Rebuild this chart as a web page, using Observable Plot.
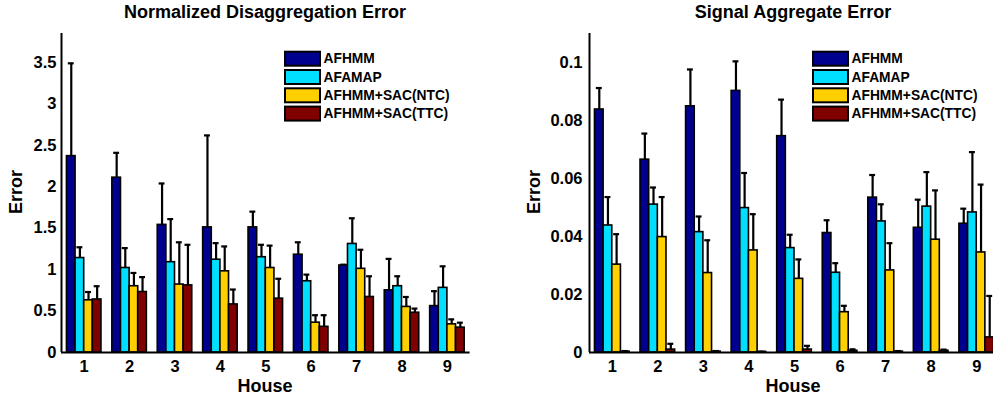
<!DOCTYPE html>
<html>
<head>
<meta charset="utf-8">
<script src="https://cdn.jsdelivr.net/npm/d3@7"></script>
<script src="https://cdn.jsdelivr.net/npm/@observablehq/plot@0.6"></script>
<style>
  html, body { margin: 0; padding: 0; background: #fff; overflow: hidden; }
  #wrap { position: relative; width: 993px; height: 400px; overflow: hidden; background: #fff; }
  #left, #right, #overlay { position: absolute; top: 0; }
  #left { left: 0; width: 496px; }
  #right { left: 496px; width: 503px; }
  #left svg, #right svg { max-width: none !important; }
  #overlay { left: 0; pointer-events: none; }
  text { font-family: "Liberation Sans", Arial, sans-serif; font-weight: bold; }
</style>
</head>
<body>
<div id="wrap">
  <div id="left"></div>
  <div id="right"></div>
  <svg id="overlay" width="993" height="400"></svg>
</div>
<script>
// ---------- data ----------
const houses = [1, 2, 3, 4, 5, 6, 7, 8, 9];
const seriesNames = ["AFHMM", "AFAMAP", "AFHMM+SAC(NTC)", "AFHMM+SAC(TTC)"];
const seriesColors = ["#00008F", "#00DFFF", "#FFCF00", "#800000"];

// Normalized Disaggregation Error
const ndeAFHMM    = [2.37, 2.11, 1.54, 1.51, 1.51, 1.18, 1.05, 0.75, 0.56];
const ndeAFAMAP   = [1.14, 1.02, 1.09, 1.12, 1.15, 0.86, 1.31, 0.80, 0.78];
const ndeNTC      = [0.63, 0.80, 0.82, 0.98, 1.02, 0.36, 1.01, 0.55, 0.34];
const ndeTTC      = [0.64, 0.73, 0.81, 0.58, 0.65, 0.31, 0.67, 0.48, 0.30];
const ndeErrAFHMM  = [1.12, 0.30, 0.50, 1.11, 0.19, 0.15, 0.01, 0.38, 0.18];
const ndeErrAFAMAP = [0.13, 0.24, 0.52, 0.20, 0.15, 0.08, 0.31, 0.12, 0.26];
const ndeErrNTC    = [0.10, 0.16, 0.51, 0.30, 0.27, 0.09, 0.23, 0.12, 0.06];
const ndeErrTTC    = [0.16, 0.18, 0.49, 0.18, 0.24, 0.14, 0.25, 0.05, 0.06];
const ndeTicks = [0, 0.5, 1, 1.5, 2, 2.5, 3, 3.5];

// Signal Aggregate Error
const saeAFHMM    = [0.0838, 0.0665, 0.0849, 0.0902, 0.0746, 0.0412, 0.0534, 0.0430, 0.0444];
const saeAFAMAP   = [0.0438, 0.0510, 0.0415, 0.0498, 0.0360, 0.0275, 0.0452, 0.0503, 0.0483];
const saeNTC      = [0.0303, 0.0398, 0.0274, 0.0352, 0.0254, 0.0139, 0.0283, 0.0389, 0.0345];
const saeTTC      = [0.0003, 0.0010, 0.0003, 0.0002, 0.0010, 0.0006, 0.0003, 0.0006, 0.0052];
const saeErrAFHMM  = [0.0074, 0.0090, 0.0127, 0.0102, 0.0126, 0.0044, 0.0078, 0.0097, 0.0052];
const saeErrAFAMAP = [0.0098, 0.0059, 0.0054, 0.0121, 0.0046, 0.0033, 0.0059, 0.0119, 0.0208];
const saeErrNTC    = [0.0105, 0.0138, 0.0113, 0.0125, 0.0067, 0.0022, 0.0094, 0.0170, 0.0234];
const saeErrTTC    = [0.0002, 0.0020, 0.0002, 0.0001, 0.0013, 0.0005, 0.0002, 0.0004, 0.0143];
const saeTicks = [0, 0.02, 0.04, 0.06, 0.08, 0.1];

// ---------- build ----------
const BAR_W = 0.19;   // bar width in house units
const CAP = 0.065;    // half cap width in house units

function rowsFrom(valueSets, errSets) {
  const rows = [];
  seriesNames.forEach((s, k) => {
    houses.forEach((h, i) => {
      const v = valueSets[k][i];
      const e = errSets[k][i];
      const c = h + (k - 1.5) * BAR_W;
      rows.push({house: h, series: s, value: v, top: v + e, xc: c, x1: c - BAR_W / 2, x2: c + BAR_W / 2});
    });
  });
  return rows;
}

function chart(rows, opts) {
  return Plot.plot({
    width: opts.width,
    height: 400,
    marginLeft: opts.marginLeft,
    marginRight: opts.marginRight,
    marginTop: 33,
    marginBottom: 48,
    style: {
      fontFamily: '"Liberation Sans", Arial, sans-serif',
      fontWeight: "bold",
      fontSize: "16.5px",
      color: "black",
      background: "transparent",
      overflow: "visible",
      maxWidth: "none"
    },
    x: {domain: [0.5, 9.5], ticks: houses, tickFormat: d => String(d), tickSize: 0, tickPadding: 8, label: null},
    y: {domain: opts.yDomain, ticks: opts.yTicks, tickFormat: d3.format("~g"), tickSize: 0, tickPadding: opts.tickPad, label: null},
    color: {domain: seriesNames, range: seriesColors},
    marks: [
      Plot.rectY(rows, {x1: "x1", x2: "x2", y1: 0, y2: "value", fill: "series", stroke: "black", strokeWidth: 1.6}),
      Plot.ruleX(rows, {x: "xc", y1: "value", y2: "top", stroke: "black", strokeWidth: 2.2}),
      Plot.ruleY(rows, {y: "top", x1: d => d.xc - CAP, x2: d => d.xc + CAP, stroke: "black", strokeWidth: 2.2}),
      Plot.ruleX([0.5], {stroke: "black", strokeWidth: 2}),
      Plot.ruleY([0], {stroke: "black", strokeWidth: 2})
    ]
  });
}

const ndeRows = rowsFrom([ndeAFHMM, ndeAFAMAP, ndeNTC, ndeTTC], [ndeErrAFHMM, ndeErrAFAMAP, ndeErrNTC, ndeErrTTC]);
const saeRows = rowsFrom([saeAFHMM, saeAFAMAP, saeNTC, saeTTC], [saeErrAFHMM, saeErrAFAMAP, saeErrNTC, saeErrTTC]);

document.getElementById("left").append(chart(ndeRows, {
  width: 496, marginLeft: 61, marginRight: 26.4, yDomain: [0, 3.85], yTicks: ndeTicks, tickPad: 5
}));
document.getElementById("right").append(chart(saeRows, {
  width: 503, marginLeft: 93, marginRight: 0, yDomain: [0, 0.11], yTicks: saeTicks, tickPad: 7
}));

// ---------- titles, labels, legends ----------
const ov = d3.select("#overlay");
const panels = [
  {title: "Normalized Disaggregation Error", cx: 265, ylabX: 15.5, legX: 285},
  {title: "Signal Aggregate Error", cx: 793, ylabX: 533.5, legX: 813}
];
panels.forEach(p => {
  ov.append("text").attr("x", p.cx).attr("y", 17.5).attr("text-anchor", "middle")
    .attr("font-size", 18).text(p.title);
  ov.append("text").attr("x", p.cx).attr("y", 391.5).attr("text-anchor", "middle")
    .attr("font-size", 18).text("House");
  ov.append("text").attr("transform", `translate(${p.ylabX},192) rotate(-90)`)
    .attr("text-anchor", "middle").attr("dominant-baseline", "central")
    .attr("font-size", 18).text("Error");
  seriesNames.forEach((s, k) => {
    const y = 51.7 + k * 18.3;
    ov.append("rect").attr("x", p.legX).attr("y", y).attr("width", 35).attr("height", 14)
      .attr("fill", seriesColors[k]).attr("stroke", "black").attr("stroke-width", 2);
    ov.append("text").attr("x", p.legX + 38.5).attr("y", y + 7).attr("dominant-baseline", "central")
      .attr("font-size", 13.8).text(s);
  });
});
</script>
</body>
</html>
